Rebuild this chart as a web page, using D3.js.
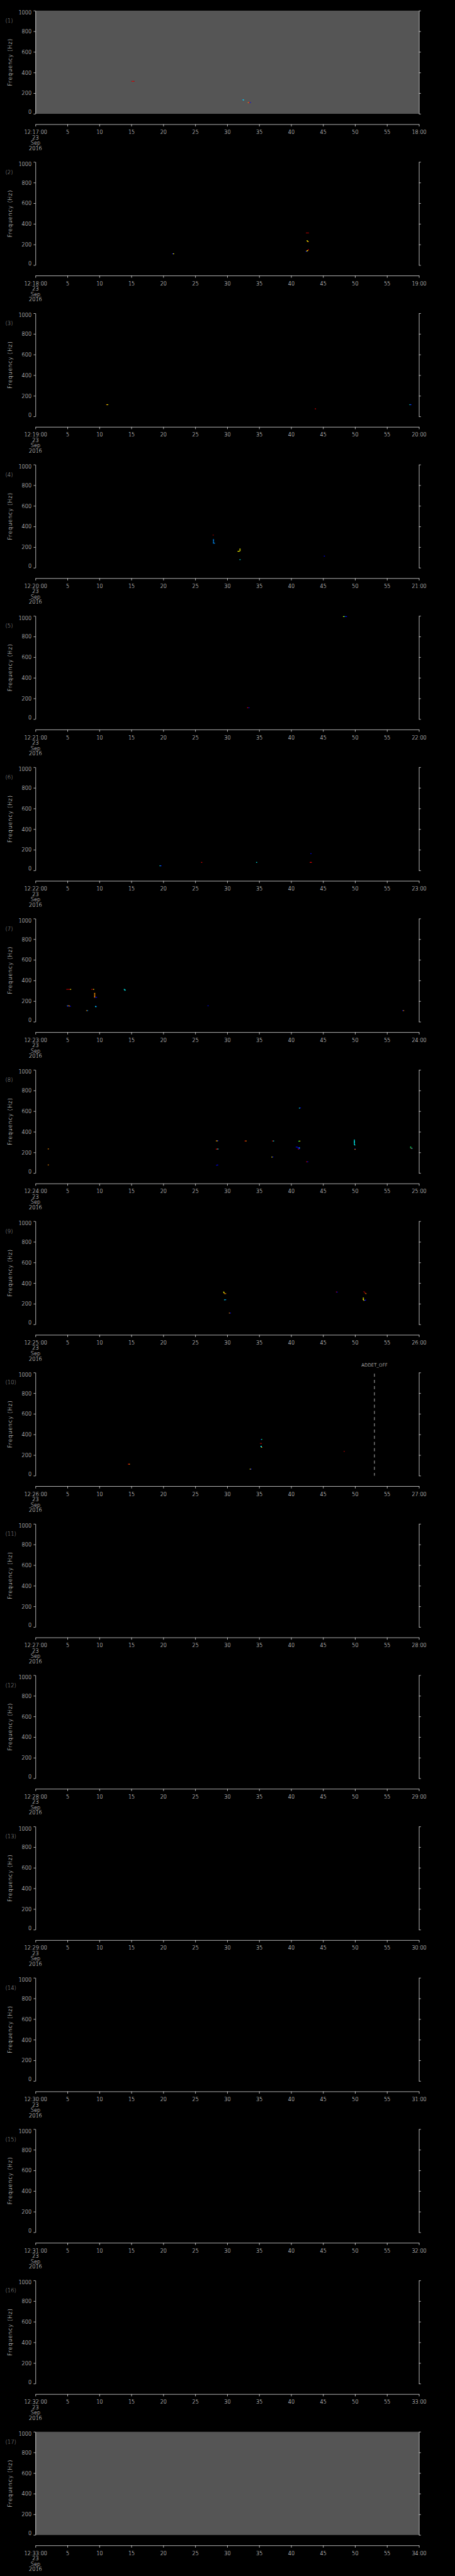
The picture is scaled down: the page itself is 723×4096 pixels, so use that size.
<!DOCTYPE html>
<html>
<head>
<meta charset="utf-8">
<script src="https://cdn.jsdelivr.net/npm/d3@7"></script>
<style>
  body { margin: 0; background: #000; }
  svg { display: block; }
  text { font-family: "DejaVu Sans", sans-serif; fill: #fff; }
</style>
</head>
<body>
<div id="chart"></div>
<script>
// minute (after 12:00) at which each one-minute panel starts
const panelMinutes = [17, 18, 19, 20, 21, 22, 23, 24, 25, 26, 27, 28, 29, 30, 31, 32, 33];
const dateLines = ['23', 'Sep', '2016'];
const freqMajor = [0, 200, 400, 600, 800, 1000];
const secTicks = [0, 5, 10, 15, 20, 25, 30, 35, 40, 45, 50, 55, 60];
const greyPanels = [0, 16];

// colour levels of the spectrogram cells
const levelColors = ['#0000ff', '#0090ff', '#00ffff', '#00ff60', '#ffff00', '#ff9000', '#ff0000', '#b00000'];

// cells: [second, frequency Hz, level]
const spots1 = [[15.1, 315, 7], [15.25, 315, 6], [15.4, 315, 7], [32.45, 136, 1], [32.55, 134, 2],
  [33.3, 109, 5], [33.45, 109, 6], [33.6, 109, 0]];
const spots2 = [[21.45, 110, 0], [21.6, 110, 4], [42.4, 312, 7], [42.55, 312, 7], [42.7, 312, 7],
  [42.5, 236, 4], [42.6, 232, 4], [42.65, 227, 5], [42.7, 149, 6], [42.62, 145, 6], [42.55, 140, 4],
  [42.45, 136, 4], [42.35, 132, 0]];
const spots3 = [[11.15, 114, 5], [11.3, 114, 4], [43.8, 74, 6], [58.6, 114, 2], [58.75, 114, 0]];
const spots4 = [[27.8, 317, 7], [27.85, 274, 1], [27.85, 265, 1], [27.85, 256, 1], [27.85, 247, 1],
  [27.85, 238, 1], [28.0, 238, 1], [31.7, 160, 4], [31.85, 160, 4], [32.0, 165, 4], [32.0, 175, 4],
  [32.0, 182, 4], [32.0, 79, 2], [45.2, 113, 0]];
const spots5 = [[48.2, 994, 4], [48.35, 994, 3], [48.5, 994, 0], [48.65, 994, 0], [33.2, 110, 6], [33.4, 110, 0]];
const spots6 = [[19.5, 45, 2], [19.65, 45, 0], [26.0, 78, 6], [34.6, 78, 2], [43.1, 163, 0], [43.0, 78, 6], [43.15, 78, 6]];
const spots7 = [[4.9, 314, 7], [5.05, 314, 7], [5.2, 314, 7], [5.35, 314, 7], [5.5, 314, 4],
  [8.8, 314, 7], [8.95, 314, 7], [9.1, 314, 4], [13.9, 314, 2], [14.0, 309, 2], [14.0, 305, 2],
  [9.26, 276, 5], [9.26, 268, 5], [9.26, 260, 5], [9.26, 252, 5], [9.26, 244, 5], [9.26, 237, 5],
  [9.4, 237, 0], [9.55, 237, 0], [5.0, 155, 1], [5.15, 155, 5], [5.3, 153, 5], [5.45, 150, 0], [5.05, 150, 0],
  [9.4, 149, 2], [9.5, 149, 0], [9.45, 145, 2], [8.0, 108, 5], [8.15, 108, 1], [27.0, 155, 0],
  [57.45, 108, 0], [57.6, 108, 5]];
const spots8 = [[2.0, 234, 5], [2.0, 79, 5], [28.3, 312, 5], [28.45, 312, 4], [28.55, 314, 0],
  [28.3, 232, 6], [28.45, 233, 6], [28.55, 233, 2], [28.35, 76, 0], [28.5, 78, 0], [32.8, 311, 6],
  [32.95, 311, 5], [37.1, 311, 6], [37.25, 311, 2], [37.0, 155, 4], [37.15, 156, 0], [42.45, 109, 6],
  [42.6, 109, 0], [41.3, 630, 2], [41.45, 632, 0], [41.2, 309, 3], [41.35, 310, 4], [40.8, 252, 0],
  [40.95, 252, 0], [41.1, 248, 0], [41.1, 240, 0], [41.3, 245, 2], [41.15, 233, 6], [41.3, 236, 0],
  [49.9, 320, 2], [49.9, 312, 2], [49.9, 304, 2], [49.9, 296, 2], [49.9, 288, 2], [49.9, 280, 2],
  [49.95, 272, 2], [50.0, 234, 0], [50.0, 230, 5], [58.7, 253, 3], [58.7, 245, 3], [58.8, 240, 6], [58.9, 240, 2]];
const spots9 = [[29.45, 314, 4], [29.5, 306, 4], [29.6, 298, 5], [29.75, 298, 5], [29.6, 238, 2],
  [29.75, 239, 1], [30.35, 110, 5], [30.5, 110, 0], [47.1, 314, 6], [47.2, 313, 0], [51.4, 317, 7],
  [51.5, 310, 7], [51.6, 303, 7], [51.7, 298, 5], [51.3, 256, 4], [51.3, 248, 4], [51.3, 240, 4],
  [51.4, 233, 4], [51.55, 234, 0], [51.65, 236, 0]];
const spots10 = [[35.3, 351, 0], [35.4, 352, 3], [35.2, 313, 7], [35.35, 313, 7], [35.3, 286, 2],
  [35.3, 280, 2], [35.4, 275, 5], [48.3, 236, 7], [14.55, 112, 6], [14.7, 112, 5], [33.6, 64, 4], [33.75, 64, 0]];
const spots = [spots1, spots2, spots3, spots4, spots5, spots6, spots7, spots8, spots9, spots10,
  [], [], [], [], [], [], []];

// event markers: [panel index, second, label]
const markers = [[9, 53.03, 'ADDET_OFF']];

const W = 1024, H = 5802, S = 0.705;
const period = H / panelMinutes.length;
const plot = { left: 80, right: 944.3, top: 24, bottom: 256.7, axisY: 280.3 };

const svg = d3.select('#chart').append('svg')
  .attr('width', 723).attr('height', 4096)
  .style('background', '#000');
const root = svg.append('g').attr('transform', `scale(${S})`);

const x = d3.scaleLinear().domain([0, 60]).range([plot.left, plot.right]);
const y = d3.scaleLinear().domain([0, 1000]).range([plot.bottom, plot.top]);
const color = d3.scaleOrdinal().domain(d3.range(levelColors.length)).range(levelColors);

panelMinutes.forEach((m, k) => {
  const g = root.append('g').attr('transform', `translate(0,${k * period})`);

  if (greyPanels.includes(k)) {
    g.append('rect')
      .attr('x', plot.left).attr('y', plot.top)
      .attr('width', plot.right - plot.left).attr('height', plot.bottom - plot.top)
      .attr('fill', '#555555');
  }

  // spectrogram cells
  g.append('g').selectAll('rect')
    .data(spots[k])
    .enter()
    .append('rect')
    .attr('x', d => x(d[0]) - 1.2)
    .attr('y', d => y(d[1]) - 0.8)
    .attr('width', 2.4)
    .attr('height', 1.6)
    .attr('fill', d => color(d[2]));

  // left axis: minor then major
  const left = g.append('g').attr('transform', `translate(${plot.left},0)`);
  left.call(d3.axisLeft(y).tickValues(y.ticks(20)).tickSize(2).tickSizeOuter(0).tickFormat(''));
  left.call(d3.axisLeft(y).tickValues(freqMajor).tickSize(4.3).tickSizeOuter(0).tickPadding(4.7)
    .tickFormat(d3.format('d')));
  left.selectAll('text')
    .attr('dy', d => (d === 0 ? '0em' : d === 1000 ? '0.73em' : '0.36em'))
    .attr('font-size', 11.5).attr('font-weight', 200)
    .style('font-family', '"DejaVu Sans", sans-serif');

  // right axis without labels
  const right = g.append('g').attr('transform', `translate(${plot.right},0)`);
  right.call(d3.axisRight(y).tickValues(y.ticks(20)).tickSize(2.3).tickSizeOuter(0).tickFormat(''));
  right.call(d3.axisRight(y).tickValues(freqMajor).tickSize(4.3).tickSizeOuter(0).tickFormat(''));

  // time axis below the plot
  const bottom = g.append('g').attr('transform', `translate(0,${plot.axisY})`);
  bottom.call(d3.axisBottom(x).tickValues(secTicks).tickSize(5).tickSizeOuter(0).tickPadding(8.8)
    .tickFormat(t => (t === 0 ? `12:${m}:00` : t === 60 ? `${m + 1}:00` : `${t}`)));
  bottom.selectAll('text')
    .attr('font-size', 11.5).attr('font-weight', 200)
    .style('font-family', '"DejaVu Sans", sans-serif');

  root.selectAll('.domain, .tick line').attr('stroke', '#fff').attr('stroke-width', 1);
  root.selectAll('.tick text').attr('fill', '#fff');

  g.append('g').selectAll('text')
    .data(dateLines)
    .enter()
    .append('text')
    .attr('x', plot.left)
    .attr('y', (d, i) => plot.axisY + 34 + i * 12.1)
    .attr('text-anchor', 'middle')
    .attr('font-size', 11.5).attr('font-weight', 200)
    .text(d => d);

  // panel number
  g.append('text')
    .attr('x', 12)
    .attr('y', 51)
    .attr('font-size', 12).attr('font-weight', 200)
    .style('fill', '#a8a8a8')
    .text(`(${k + 1})`);

  g.append('text')
    .attr('transform', `translate(27,${(plot.top + plot.bottom) / 2}) rotate(-90)`)
    .attr('text-anchor', 'middle')
    .attr('font-size', 12).attr('font-weight', 200)
    .attr('letter-spacing', 1.2)
    .text('Frequency (Hz)');

  markers.filter(mk => mk[0] === k).forEach(mk => {
    g.append('line')
      .attr('x1', x(mk[1])).attr('x2', x(mk[1]))
      .attr('y1', plot.top + 2.5).attr('y2', plot.bottom)
      .attr('stroke', '#fff').attr('stroke-dasharray', '7,7');
    g.append('text')
      .attr('x', x(mk[1])).attr('y', plot.top - 14)
      .attr('text-anchor', 'middle')
      .attr('font-size', 10).attr('font-weight', 200)
      .text(mk[2]);
  });
});
</script>
</body>
</html>
